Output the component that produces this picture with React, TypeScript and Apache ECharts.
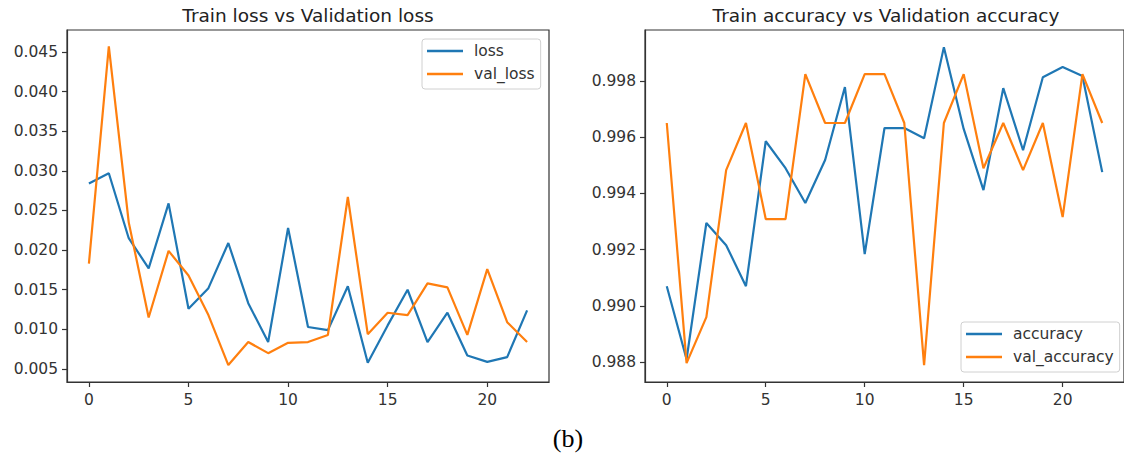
import React, { useEffect, useRef } from "react";
import * as echarts from "echarts";

const epochs = [0, 1, 2, 3, 4, 5, 6, 7, 8, 9, 10, 11, 12, 13, 14, 15, 16, 17, 18, 19, 20, 21, 22];
const loss = [0.0284, 0.0297, 0.0215, 0.0177, 0.0259, 0.0126, 0.0152, 0.0209, 0.0133, 0.0084, 0.0228, 0.0103, 0.0099, 0.01545, 0.0058, 0.0105, 0.0150, 0.0084, 0.0121, 0.0067, 0.0059, 0.0065, 0.0124];
const valLoss = [0.0183, 0.0457, 0.0235, 0.0115, 0.0199, 0.0168, 0.0118, 0.0055, 0.0084, 0.0070, 0.0083, 0.0084, 0.0093, 0.0267, 0.0094, 0.0121, 0.0118, 0.0158, 0.0153, 0.0093, 0.0176, 0.0109, 0.0084];
const accuracy = [0.9907, 0.9881, 0.99295, 0.99216, 0.9907, 0.99586, 0.9949, 0.99366, 0.99519, 0.99779, 0.99184, 0.99633, 0.99633, 0.99597, 0.99921, 0.9963, 0.99412, 0.99775, 0.99554, 0.99814, 0.9985, 0.99818, 0.99476];
const valAccuracy = [0.99651, 0.98796, 0.9896, 0.99483, 0.99651, 0.99309, 0.99309, 0.99825, 0.99651, 0.99651, 0.99825, 0.99825, 0.99651, 0.98789, 0.99651, 0.99825, 0.9949, 0.99651, 0.99483, 0.99651, 0.99316, 0.99825, 0.99651];

const xTicks = [0, 5, 10, 15, 20];
const lossTicks = [0.005, 0.01, 0.015, 0.02, 0.025, 0.03, 0.035, 0.04, 0.045];
const accTicks = [0.988, 0.99, 0.992, 0.994, 0.996, 0.998];

const titles = ["Train loss vs Validation loss", "Train accuracy vs Validation accuracy"];
const caption = "(b)";

const BLUE = "#1f77b4";
const ORANGE = "#ff7f0e";
const FONT = "DejaVu Sans";
const INK = "#333";

function xAxis(gridIndex: number) {
  return {
    type: "value",
    gridIndex,
    min: -1.1,
    max: 23.1,
    axisLine: { show: true, onZero: false, lineStyle: { color: INK, width: 1.2 } },
    splitLine: { show: false },
    axisTick: { show: true, length: 5, customValues: xTicks, lineStyle: { color: INK, width: 1.2 } },
    axisLabel: { customValues: xTicks, margin: 10, color: INK, fontFamily: FONT, fontSize: 15.5 },
  };
}

function yAxis(gridIndex: number, min: number, max: number, ticks: number[]) {
  return {
    type: "value",
    gridIndex,
    min,
    max,
    axisLine: { show: true, onZero: false, lineStyle: { color: INK, width: 1.2 } },
    splitLine: { show: false },
    axisTick: { show: true, length: 5, customValues: ticks, lineStyle: { color: INK, width: 1.2 } },
    axisLabel: {
      customValues: ticks,
      margin: 9,
      color: INK,
      fontFamily: FONT,
      fontSize: 15.5,
      formatter: (v: number) => v.toFixed(3),
    },
  };
}

function lineSeries(name: string, values: number[], color: string, idx: number) {
  return {
    type: "line",
    name,
    xAxisIndex: idx,
    yAxisIndex: idx,
    data: epochs.map((e, i) => [e, values[i]]),
    symbol: "none",
    color,
    lineStyle: { color, width: 2.2 },
  };
}

function legend(names: string[], left: number, top: number) {
  return {
    data: names,
    orient: "vertical",
    left,
    top,
    icon: "rect",
    itemWidth: 36,
    itemHeight: 2.4,
    itemGap: 7,
    padding: [4, 6, 7, 5],
    borderColor: "#d0d0d0",
    borderWidth: 1,
    borderRadius: 3,
    backgroundColor: "rgba(255,255,255,0.8)",
    textStyle: { color: INK, fontFamily: FONT, fontSize: 15.5, lineHeight: 16, padding: [0, 0, 0, 6] },
  };
}

export default function App() {
  const ref = useRef<HTMLDivElement>(null);
  useEffect(() => {
    if (!ref.current) return;
    const chart = echarts.init(ref.current, null, { renderer: "svg" });
    chart.setOption({
      animation: false,
      backgroundColor: "#fff",
      grid: [
        { left: 67, top: 30, width: 482, height: 352, show: true, borderColor: INK, borderWidth: 1.2, backgroundColor: "transparent" },
        { left: 645, top: 30, width: 482, height: 352, show: true, borderColor: INK, borderWidth: 1.2, backgroundColor: "transparent" },
      ],
      xAxis: [xAxis(0), xAxis(1)],
      yAxis: [yAxis(0, 0.00336, 0.04777, lossTicks), yAxis(1, 0.98729, 0.99982, accTicks)],
      legend: [legend(["loss", "val_loss"], 422, 39), legend(["accuracy", "val_accuracy"], 961, 322)],
      series: [
        lineSeries("loss", loss, BLUE, 0),
        lineSeries("val_loss", valLoss, ORANGE, 0),
        lineSeries("accuracy", accuracy, BLUE, 1),
        lineSeries("val_accuracy", valAccuracy, ORANGE, 1),
      ],
      graphic: [
        { type: "text", x: 308, y: 15, style: { text: titles[0], fill: "#222", font: `18.5px "${FONT}"`, textAlign: "center", textVerticalAlign: "middle" } },
        { type: "text", x: 886, y: 15, style: { text: titles[1], fill: "#222", font: `18.5px "${FONT}"`, textAlign: "center", textVerticalAlign: "middle" } },
        { type: "text", x: 568, y: 438, style: { text: caption, fill: "#000", font: `26px "Liberation Serif"`, textAlign: "center", textVerticalAlign: "middle" } },
      ],
    });
    return () => chart.dispose();
  }, []);
  return <div ref={ref} style={{ position: "fixed", left: 0, top: 0, width: 1124, height: 456 }} />;
}
